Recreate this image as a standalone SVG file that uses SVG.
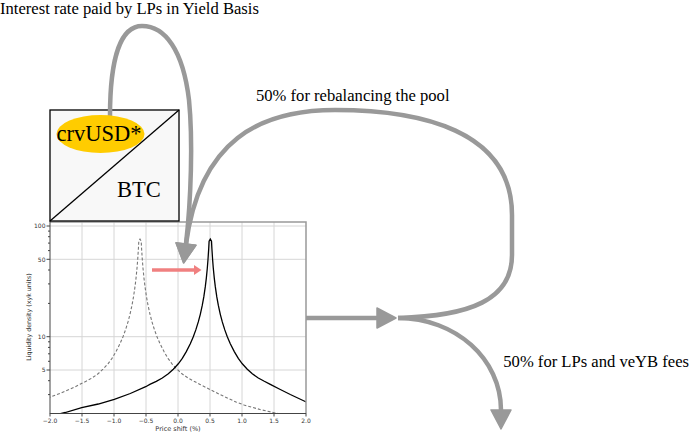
<svg xmlns="http://www.w3.org/2000/svg" xmlns:xlink="http://www.w3.org/1999/xlink" width="690" height="441" viewBox="0 0 690 441">
<style>
.lbl{font-family:"Liberation Serif","Times New Roman",serif;font-size:16.6px;fill:#000}
.big{font-family:"Liberation Serif","Times New Roman",serif;font-size:22.5px;fill:#000}
.tk{font-family:"DejaVu Sans","Liberation Sans",sans-serif;font-size:6px;fill:#333}
.grid{stroke:#d6d6d6;stroke-width:1;fill:none}
.spine{stroke:#444;stroke-width:1;fill:none}
.conn{fill:none;stroke:#999;stroke-width:4.5;stroke-linecap:butt}
.solid{fill:none;stroke:#000;stroke-width:1.3}
.dash{fill:none;stroke:#777;stroke-width:1.1;stroke-dasharray:3 2}
</style>
<defs>
<marker id="ah" markerUnits="userSpaceOnUse" markerWidth="24" markerHeight="24" viewBox="0 -12 22 24" refX="0" refY="0" orient="auto" overflow="visible">
<path d="M0,-10 L19,0 L0,10 Z" fill="#999" stroke="#999" stroke-width="1.5" stroke-linejoin="round"/>
</marker>
<clipPath id="pc"><rect x="50" y="222" width="256" height="191"/></clipPath>
<path id="curve" d="M50.3,416 L65.3,412.5 L81.7,407.7 L98.3,404 L114.3,399.3 L130.3,393.5 L145.7,386.7 L150.3,384.2 L156.3,381.3 L162.3,378 L168.3,373.8 L173.3,369.2 L178.3,363.8 L182.3,358.4 L186.3,351.6 L190.3,343.7 L193.3,336.7 L195.8,329.9 L198.3,321.9 L200.3,314.3 L202.3,305.2 L203.8,296.9 L205.3,286.7 L206.3,278.4 L207.3,268.3 L208,259.5 L208.7,248.7 L209.1,241.1 L210.3,239 L211.5,241.1 L211.9,248.7 L212.6,259.5 L213.3,268.3 L214.3,278.4 L215.3,286.7 L216.8,296.9 L218.3,305.2 L220.3,314.3 L222.3,321.9 L224.8,329.9 L227.3,336.7 L230.3,343.7 L234.3,351.6 L238.3,358.4 L242.3,363.8 L247.3,369.2 L252.3,373.8 L258.3,378 L264.3,381.3 L270.3,384.4 L280.3,389.5 L290.3,394.5 L306.3,402 L314.3,405 L330.3,409.5 L344.3,412.7 L360,416"/>
</defs>

<g id="plot">
<g id="gridlines">
<path class="grid" d="M82,222V413M114,222V413M146,222V413M178,222V413M210,222V413M242,222V413M274,222V413"/>
<path class="grid" d="M50,226H306M50,259.3H306M50,336.7H306M50,370H306"/>
</g>
<g clip-path="url(#pc)">
<use xlink:href="#curve" href="#curve" class="dash" transform="translate(-70.3,0)"/>
<use xlink:href="#curve" href="#curve" class="solid"/>
</g>
<path d="M50,222H306V413" fill="none" stroke="#999" stroke-width="1.5"/>
<path class="spine" d="M50,221V413.5H306"/>
<path class="spine" d="M46.5,226H50M46.5,259.3H50M46.5,336.7H50M46.5,370H50M50,413V416.5M82,413V416.5M114,413V416.5M146,413V416.5M178,413V416.5M210,413V416.5M242,413V416.5M274,413V416.5M306,413V416.5"/>
<path class="spine" stroke-width="0.7" d="M48,394.6H50M48,380.7H50M48,361.3H50M48,353.8H50M48,347.4H50M48,341.8H50M48,303.4H50M48,283.9H50M48,270H50M48,250.6H50M48,243.1H50M48,236.7H50M48,231.1H50"/>
<g class="tk" text-anchor="end">
<text x="45.5" y="228.2">100</text>
<text x="45.5" y="261.5">50</text>
<text x="45.5" y="338.9">10</text>
<text x="45.5" y="372.2">5</text>
</g>
<g class="tk" text-anchor="middle">
<text x="50" y="422.5">−2.0</text>
<text x="82" y="422.5">−1.5</text>
<text x="114" y="422.5">−1.0</text>
<text x="146" y="422.5">−0.5</text>
<text x="178" y="422.5">0.0</text>
<text x="210" y="422.5">0.5</text>
<text x="242" y="422.5">1.0</text>
<text x="274" y="422.5">1.5</text>
<text x="306" y="422.5">2.0</text>
<text x="178" y="431" style="font-size:6.5px">Price shift (%)</text>
<text transform="translate(30.5,317) rotate(-90)" style="font-size:6.3px">Liquidity density (xyk units)</text>
</g>
<g id="shift-arrow">
<line x1="152" y1="270" x2="195" y2="270" stroke="#f08080" stroke-width="3.5"/>
<polygon points="194,265 201.5,270 194,275" fill="#f08080"/>
</g>
</g>

<g id="pool-box">
<rect x="50" y="110" width="129" height="111" fill="#f8f8f8" stroke="#000" stroke-width="1.3"/>
<line x1="50" y1="221" x2="179" y2="110" stroke="#000" stroke-width="1.3"/>
<text class="big" x="117" y="196.7">BTC</text>
</g>

<g id="connectors">
<path class="conn" d="M110,116 C110,60 120,26 142,26 C165,26 183,50 189,100 C193,140 191,200 186,244" marker-end="url(#ah)"/>
<path class="conn" d="M398,318 C470,316 512,300 512,255 L512,215 C512,130 420,110 335,110 C260,110 200,140 186,244" marker-end="url(#ah)"/>
<path class="conn" d="M306,318 L377,318" marker-end="url(#ah)"/>
<path class="conn" d="M398,318 C455.8,318 501,359.2 501,410" marker-end="url(#ah)"/>
</g>

<g id="crvusd">
<ellipse cx="100.5" cy="134" rx="44" ry="19" fill="#ffcc00"/>
<text class="big" x="56.5" y="141">crvUSD*</text>
</g>

<g id="labels">
<text class="lbl" x="0" y="14">Interest rate paid by LPs in Yield Basis</text>
<text class="lbl" x="256" y="101">50% for rebalancing the pool</text>
<text class="lbl" x="503.3" y="367.3">50% for LPs and veYB fees</text>
</g>
</svg>
